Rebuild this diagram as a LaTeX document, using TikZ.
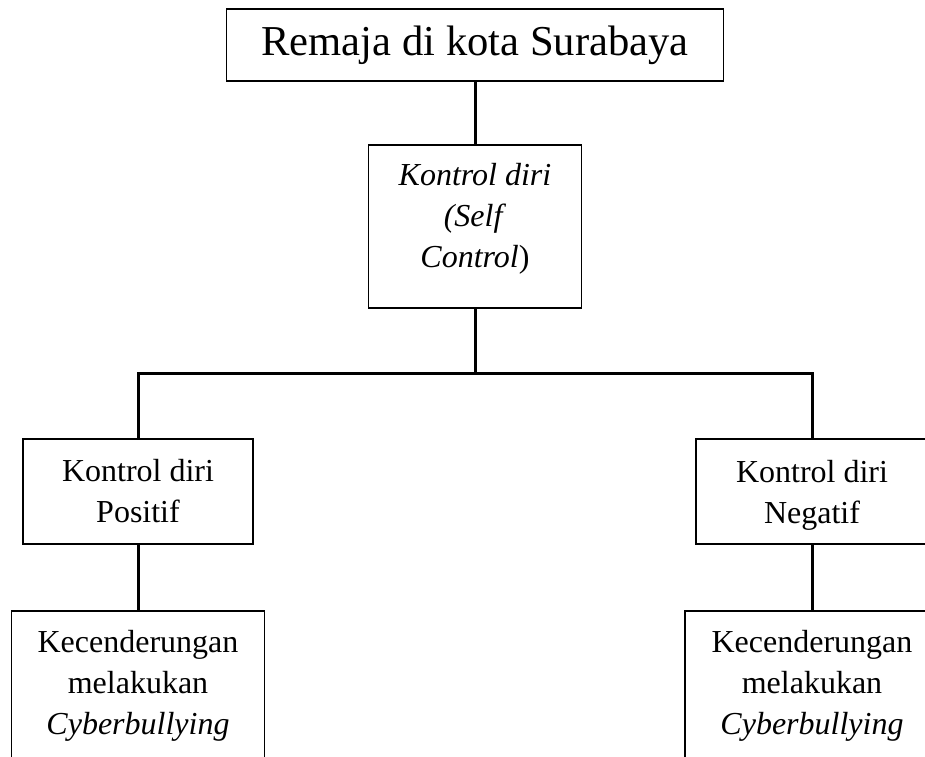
\documentclass[tikz,border=0pt]{standalone}
\usepackage{fontspec}
\setmainfont{Liberation Serif}
\begin{document}
\begin{tikzpicture}[x=1pt,y=-1pt,
  box/.style={draw=black,line width=1.8pt,inner sep=0pt,align=center,font=\fontsize{32}{41}\selectfont},
  conn/.style={draw=black,line width=3pt}]
\useasboundingbox (0,0) rectangle (925,756);
\clip (0,0) rectangle (925,756);
\node[box,minimum width=497pt,minimum height=72pt,font=\fontsize{42.6}{50}\selectfont] (top) at (475,45) {Remaja di kota Surabaya};
\node[box,minimum width=213pt,minimum height=163pt] (mid) at (475,226.5) {\textit{Kontrol diri}\\\textit{(Self}\\\textit{Control})\\[-18pt]\mbox{}};
\node[box,minimum width=230pt,minimum height=105pt] (lp) at (138,491.5) {Kontrol diri\\Positif};
\node[box,minimum width=232pt,minimum height=105pt] (rp) at (812,491.5) {Kontrol diri\\\smash{Negatif}};
\node[box,minimum width=253pt,minimum height=149pt] (lb) at (138,685.5) {Kecenderungan\\melakukan\\\textit{Cyberbullying}};
\node[box,minimum width=254pt,minimum height=149pt] (rb) at (812,685.5) {Kecenderungan\\melakukan\\\textit{Cyberbullying}};
\coordinate (j) at (475,373);
\draw[conn] (top.south) -- (mid.north);
\draw[conn] (mid.south) -- (mid.south |- j);
\draw[conn] (lp.north) -- (lp.north |- j) -- (rp.north |- j) -- (rp.north);
\draw[conn] (lp.south) -- (lb.north);
\draw[conn] (rp.south) -- (rb.north);
\end{tikzpicture}
\end{document}
